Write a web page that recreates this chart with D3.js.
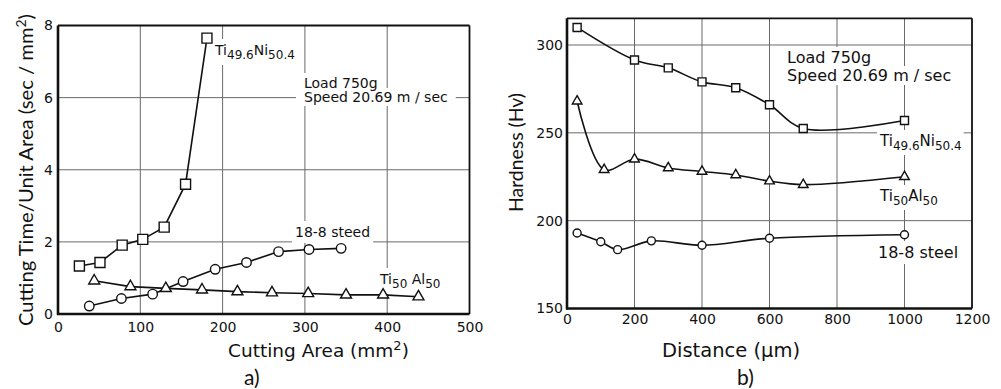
<!DOCTYPE html>
<html>
<head>
<meta charset="utf-8">
<script src="https://cdn.jsdelivr.net/npm/d3@7"></script>
<style>
  body { margin: 0; background: #fff; }
  svg { display: block; }
  text { fill: #111; white-space: pre; }
</style>
</head>
<body>
<svg width="1001" height="389"></svg>
<script>
// a) cutting time vs cutting area
const AREA_NI = [26, 51, 78, 103, 129, 155, 181];
const TIME_NI = [1.33, 1.43, 1.91, 2.07, 2.41, 3.6, 7.65];
const AREA_STEEL = [38, 77, 115, 152, 191, 229, 268, 305, 344];
const TIME_STEEL = [0.22, 0.43, 0.55, 0.9, 1.24, 1.43, 1.73, 1.79, 1.82];
const AREA_AL = [44, 88, 131, 175, 218, 260, 304, 350, 395, 438];
const TIME_AL = [0.92, 0.76, 0.71, 0.67, 0.62, 0.59, 0.57, 0.53, 0.53, 0.48];
const A_X_TICKS = [0, 100, 200, 300, 400, 500];
const A_Y_TICKS = [0, 2, 4, 6, 8];

// b) hardness vs distance
const DIST_NI = [30, 200, 300, 400, 500, 600, 700, 1000];
const HV_NI = [310, 291.5, 287, 279, 275.7, 266, 252.5, 257];
const DIST_AL = [30, 110, 200, 300, 400, 500, 600, 700, 1000];
const HV_AL = [268, 229, 235, 230, 228, 226, 222.5, 220.5, 225];
const DIST_STEEL = [30, 100, 150, 250, 400, 600, 1000];
const HV_STEEL = [193, 188, 183.5, 188.5, 186, 190, 192];
const B_X_TICKS = [0, 200, 400, 600, 800, 1000, 1200];
const B_Y_TICKS = [150, 200, 250, 300];

const svg = d3.select("svg");
const FONT = "DejaVu Sans";

const zip = (xs, ys) => xs.map((x, i) => [x, ys[i]]);

function frame(g, x, y, axisFont, pad) {
    const [x0, x1] = x.range();
    const [y0, y1] = y.range();
    g.append("g")
        .attr("transform", `translate(0,${y0})`)
        .call(d3.axisBottom(x).tickValues(x.ticksList).tickFormat(d3.format("d")).tickSize(0).tickPadding(pad.x))
        .call(a => a.select(".domain").remove())
        .selectAll("text").attr("font-family", FONT).attr("font-size", axisFont).attr("fill", "#111");
    g.append("g")
        .attr("transform", `translate(${x0},0)`)
        .call(d3.axisLeft(y).tickValues(y.ticksList).tickFormat(d3.format("d")).tickSize(0).tickPadding(pad.y))
        .call(a => a.select(".domain").remove())
        .selectAll("text").attr("font-family", FONT).attr("font-size", axisFont).attr("fill", "#111");

    const grid = g.append("g").attr("stroke", "#6a6a6a").attr("stroke-width", 1);
    x.ticksList.slice(1, -1).forEach(t => {
        grid.append("line").attr("x1", x(t)).attr("x2", x(t)).attr("y1", y0).attr("y2", y1);
    });
    y.ticksList.filter(t => y(t) < y0 - 2 && y(t) > y1 + 2).forEach(t => {
        grid.append("line").attr("x1", x0).attr("x2", x1).attr("y1", y(t)).attr("y2", y(t));
    });
}

function border(g, x, y) {
    const [x0, x1] = x.range();
    const [y0, y1] = y.range();
    g.append("line").attr("x1", x0).attr("x2", x1).attr("y1", y1).attr("y2", y1)
        .attr("stroke", "#111").attr("stroke-width", 1.8);
    g.append("line").attr("x1", x1).attr("x2", x1).attr("y1", y0).attr("y2", y1)
        .attr("stroke", "#111").attr("stroke-width", 1.8);
    g.append("line").attr("x1", x0).attr("x2", x0).attr("y1", y0 + 1).attr("y2", y1)
        .attr("stroke", "#111").attr("stroke-width", 2.6);
    g.append("line").attr("x1", x0 - 1).attr("x2", x1).attr("y1", y0).attr("y2", y0)
        .attr("stroke", "#111").attr("stroke-width", 2.6);
}

// text label with optional subscripts; white patch goes in the back layer to break the grid
function label(layers, x, y, parts, size, subSize, padX = 3, padY = 1) {
    const t = layers.fg.append("text")
        .attr("x", x).attr("y", y)
        .attr("font-family", FONT).attr("font-size", size);
    let shifted = false;
    parts.forEach(([txt, sub]) => {
        const span = t.append("tspan").text(txt);
        if (sub && !shifted) { span.attr("dy", 4).attr("font-size", subSize); shifted = true; }
        else if (sub) { span.attr("font-size", subSize); }
        else if (shifted) { span.attr("dy", -4); shifted = false; }
    });
    const b = t.node().getBBox();
    layers.bg.append("rect")
        .attr("x", b.x - padX).attr("y", b.y - padY)
        .attr("width", b.width + 2 * padX).attr("height", b.height + 2 * padY)
        .attr("fill", "#fff");
}

function series(g, x, y, pts, curve, symbol, size) {
    g.append("path")
        .datum(pts)
        .attr("fill", "none")
        .attr("stroke", "#111")
        .attr("stroke-width", 1.6)
        .attr("d", d3.line().x(d => x(d[0])).y(d => y(d[1])).curve(curve));
    g.selectAll(null)
        .data(pts)
        .enter()
        .append("path")
        .attr("transform", d => `translate(${x(d[0])},${y(d[1])})`)
        .attr("d", d3.symbol().type(symbol).size(size))
        .attr("fill", "#fff")
        .attr("stroke", "#111")
        .attr("stroke-width", 1.4);
}

// ---------- chart a ----------
const xA = d3.scaleLinear().domain([0, 500]).range([58, 469.5]);
const yA = d3.scaleLinear().domain([0, 8]).range([314, 25.5]);
xA.ticksList = A_X_TICKS;
yA.ticksList = A_Y_TICKS;

const gA = svg.append("g");
frame(gA, xA, yA, 14, { x: 8, y: 5 });
const layersA = { bg: gA.append("g"), fg: gA.append("g") };

label(layersA, 215, 55, [["Ti"], ["49.6", true], ["Ni"], ["50.4", true]], 14, 12, 4, 3);
label(layersA, 304, 88, [["Load 750g"]], 14, 14, 8, 2);
label(layersA, 304, 102, [["Speed 20.69 m / sec"]], 14, 14, 8, 1);
label(layersA, 295, 237, [["18-8 steed"]], 14, 14, 3, 3);
label(layersA, 380, 284, [["Ti"], ["50", true], [" Al"], ["50", true]], 14, 12, 3, 3);

const plotA = gA.append("g");
series(plotA, xA, yA, zip(AREA_NI, TIME_NI), d3.curveLinear, d3.symbolSquare, 100);
series(plotA, xA, yA, zip(AREA_STEEL, TIME_STEEL), d3.curveLinear, d3.symbolCircle, 71);
series(plotA, xA, yA, zip(AREA_AL, TIME_AL), d3.curveLinear, d3.symbolTriangle, 52);
border(gA, xA, yA);

gA.append("text")
    .attr("transform", "translate(33,170) rotate(-90)")
    .attr("text-anchor", "middle")
    .attr("font-family", "Lato").attr("font-size", 19)
    .attr("textLength", 312).attr("lengthAdjust", "spacingAndGlyphs")
    .call(t => {
        t.append("tspan").text("Cutting Time/Unit Area (sec / mm");
        t.append("tspan").text("2").attr("font-size", 13).attr("dy", -7);
        t.append("tspan").text(")").attr("dy", 7);
    });

gA.append("text")
    .attr("x", 228).attr("y", 357)
    .attr("font-family", FONT).attr("font-size", 18.5)
    .call(t => {
        t.append("tspan").text("Cutting Area (mm");
        t.append("tspan").text("2").attr("font-size", 13).attr("dy", -7);
        t.append("tspan").text(")").attr("dy", 7);
    });

gA.append("text")
    .attr("x", 244).attr("y", 385)
    .attr("font-family", "Lato").attr("font-size", 21)
    .text("a)");

// ---------- chart b ----------
const xB = d3.scaleLinear().domain([0, 1200]).range([567, 972]);
const yB = d3.scaleLinear().domain([150, 315.2]).range([308.5, 18.3]);
xB.ticksList = B_X_TICKS;
yB.ticksList = B_Y_TICKS;

const gB = svg.append("g");
frame(gB, xB, yB, 14, { x: 6, y: 4 });
const layersB = { bg: gB.append("g"), fg: gB.append("g") };

label(layersB, 787, 63, [["Load 750g"]], 16, 16, 4, 1);
label(layersB, 787, 81, [["Speed 20.69 m / sec"]], 16, 16, 4, 0);
label(layersB, 880, 146, [["Ti"], ["49.6", true], ["Ni"], ["50.4", true]], 15, 12, 2, 2);
label(layersB, 880, 201, [["Ti"], ["50", true], ["Al"], ["50", true]], 15, 12, 2, 2);
label(layersB, 878, 258, [["18-8 steel"]], 16, 16, 2, 2);

const plotB = gB.append("g");
series(plotB, xB, yB, zip(DIST_NI, HV_NI), d3.curveCatmullRom, d3.symbolSquare, 64);
series(plotB, xB, yB, zip(DIST_AL, HV_AL), d3.curveCatmullRom, d3.symbolTriangle, 40);
series(plotB, xB, yB, zip(DIST_STEEL, HV_STEEL), d3.curveCatmullRom, d3.symbolCircle, 50);
border(gB, xB, yB);

gB.append("text")
    .attr("transform", "translate(523,152.5) rotate(-90)")
    .attr("text-anchor", "middle")
    .attr("font-family", "Lato").attr("font-size", 19)
    .attr("textLength", 119).attr("lengthAdjust", "spacingAndGlyphs")
    .text("Hardness (Hv)");

gB.append("text")
    .attr("x", 662).attr("y", 357)
    .attr("font-family", FONT).attr("font-size", 19.5)
    .text("Distance (\u00b5m)");

gB.append("text")
    .attr("x", 737).attr("y", 385)
    .attr("font-family", "Lato").attr("font-size", 21)
    .text("b)");
</script>
</body>
</html>
